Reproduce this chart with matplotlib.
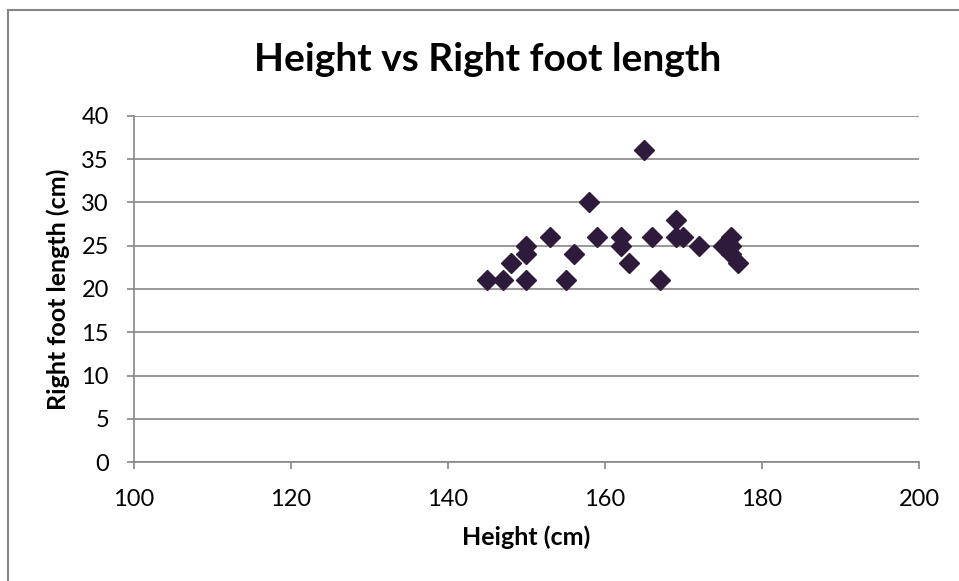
import matplotlib.pyplot as plt
from matplotlib.lines import Line2D

plt.rcParams['font.family'] = ['Lato', 'DejaVu Sans']

height_cm = [145, 147, 148, 150, 150, 150, 153, 155, 156, 158, 159, 162, 162,
             163, 165, 166, 167, 169, 169, 170, 172, 175, 176, 176, 176, 177]
foot_cm = [21, 21, 23, 25, 24, 21, 26, 21, 24, 30, 26, 26, 25,
           23, 36, 26, 21, 28, 26, 26, 25, 25, 26, 25, 24, 23]

x_ticks = [100, 120, 140, 160, 180, 200]
y_ticks = [0, 5, 10, 15, 20, 25, 30, 35, 40]

grey = '#868686'

fig = plt.figure(figsize=(9.59, 5.81), dpi=100)
ax = fig.add_axes([0.1397, 0.2043, 0.8186, 0.5966])

ax.plot(height_cm, foot_cm, linestyle='none', marker='D', markersize=10,
        color='#2e1a3a', zorder=3, clip_on=False)

ax.set_xlim(100, 200)
ax.set_ylim(0, 40)
ax.set_xticks(x_ticks)
ax.set_yticks(y_ticks)
ax.grid(axis='y', color=grey, linewidth=1.2)
ax.set_axisbelow(True)

for side in ['top', 'right']:
    ax.spines[side].set_visible(False)
for side in ['left', 'bottom']:
    ax.spines[side].set_color(grey)
    ax.spines[side].set_linewidth(1.2)
ax.tick_params(colors=grey, labelcolor='black', labelsize=17, length=5, width=1.2)
ax.tick_params(axis='x', pad=14)
ax.tick_params(axis='y', pad=13)

ax.set_xlabel('Height (cm)', fontsize=18, fontweight='bold', labelpad=11)
ax.set_ylabel('Right foot length (cm)', fontsize=18, fontweight='bold', labelpad=8)

fig.text(488 / 959, 1 - 71 / 581, 'Height vs Right foot length', fontsize=28,
         fontweight='bold', ha='center', va='baseline')

# chart area border
fig.add_artist(Line2D([8 / 959, 8 / 959], [0, 1 - 10 / 581], color=grey,
                      linewidth=1.5, transform=fig.transFigure))
fig.add_artist(Line2D([8 / 959, 1], [1 - 10 / 581, 1 - 10 / 581], color=grey,
                      linewidth=1.5, transform=fig.transFigure))

fig.savefig('out.png', dpi=100)
